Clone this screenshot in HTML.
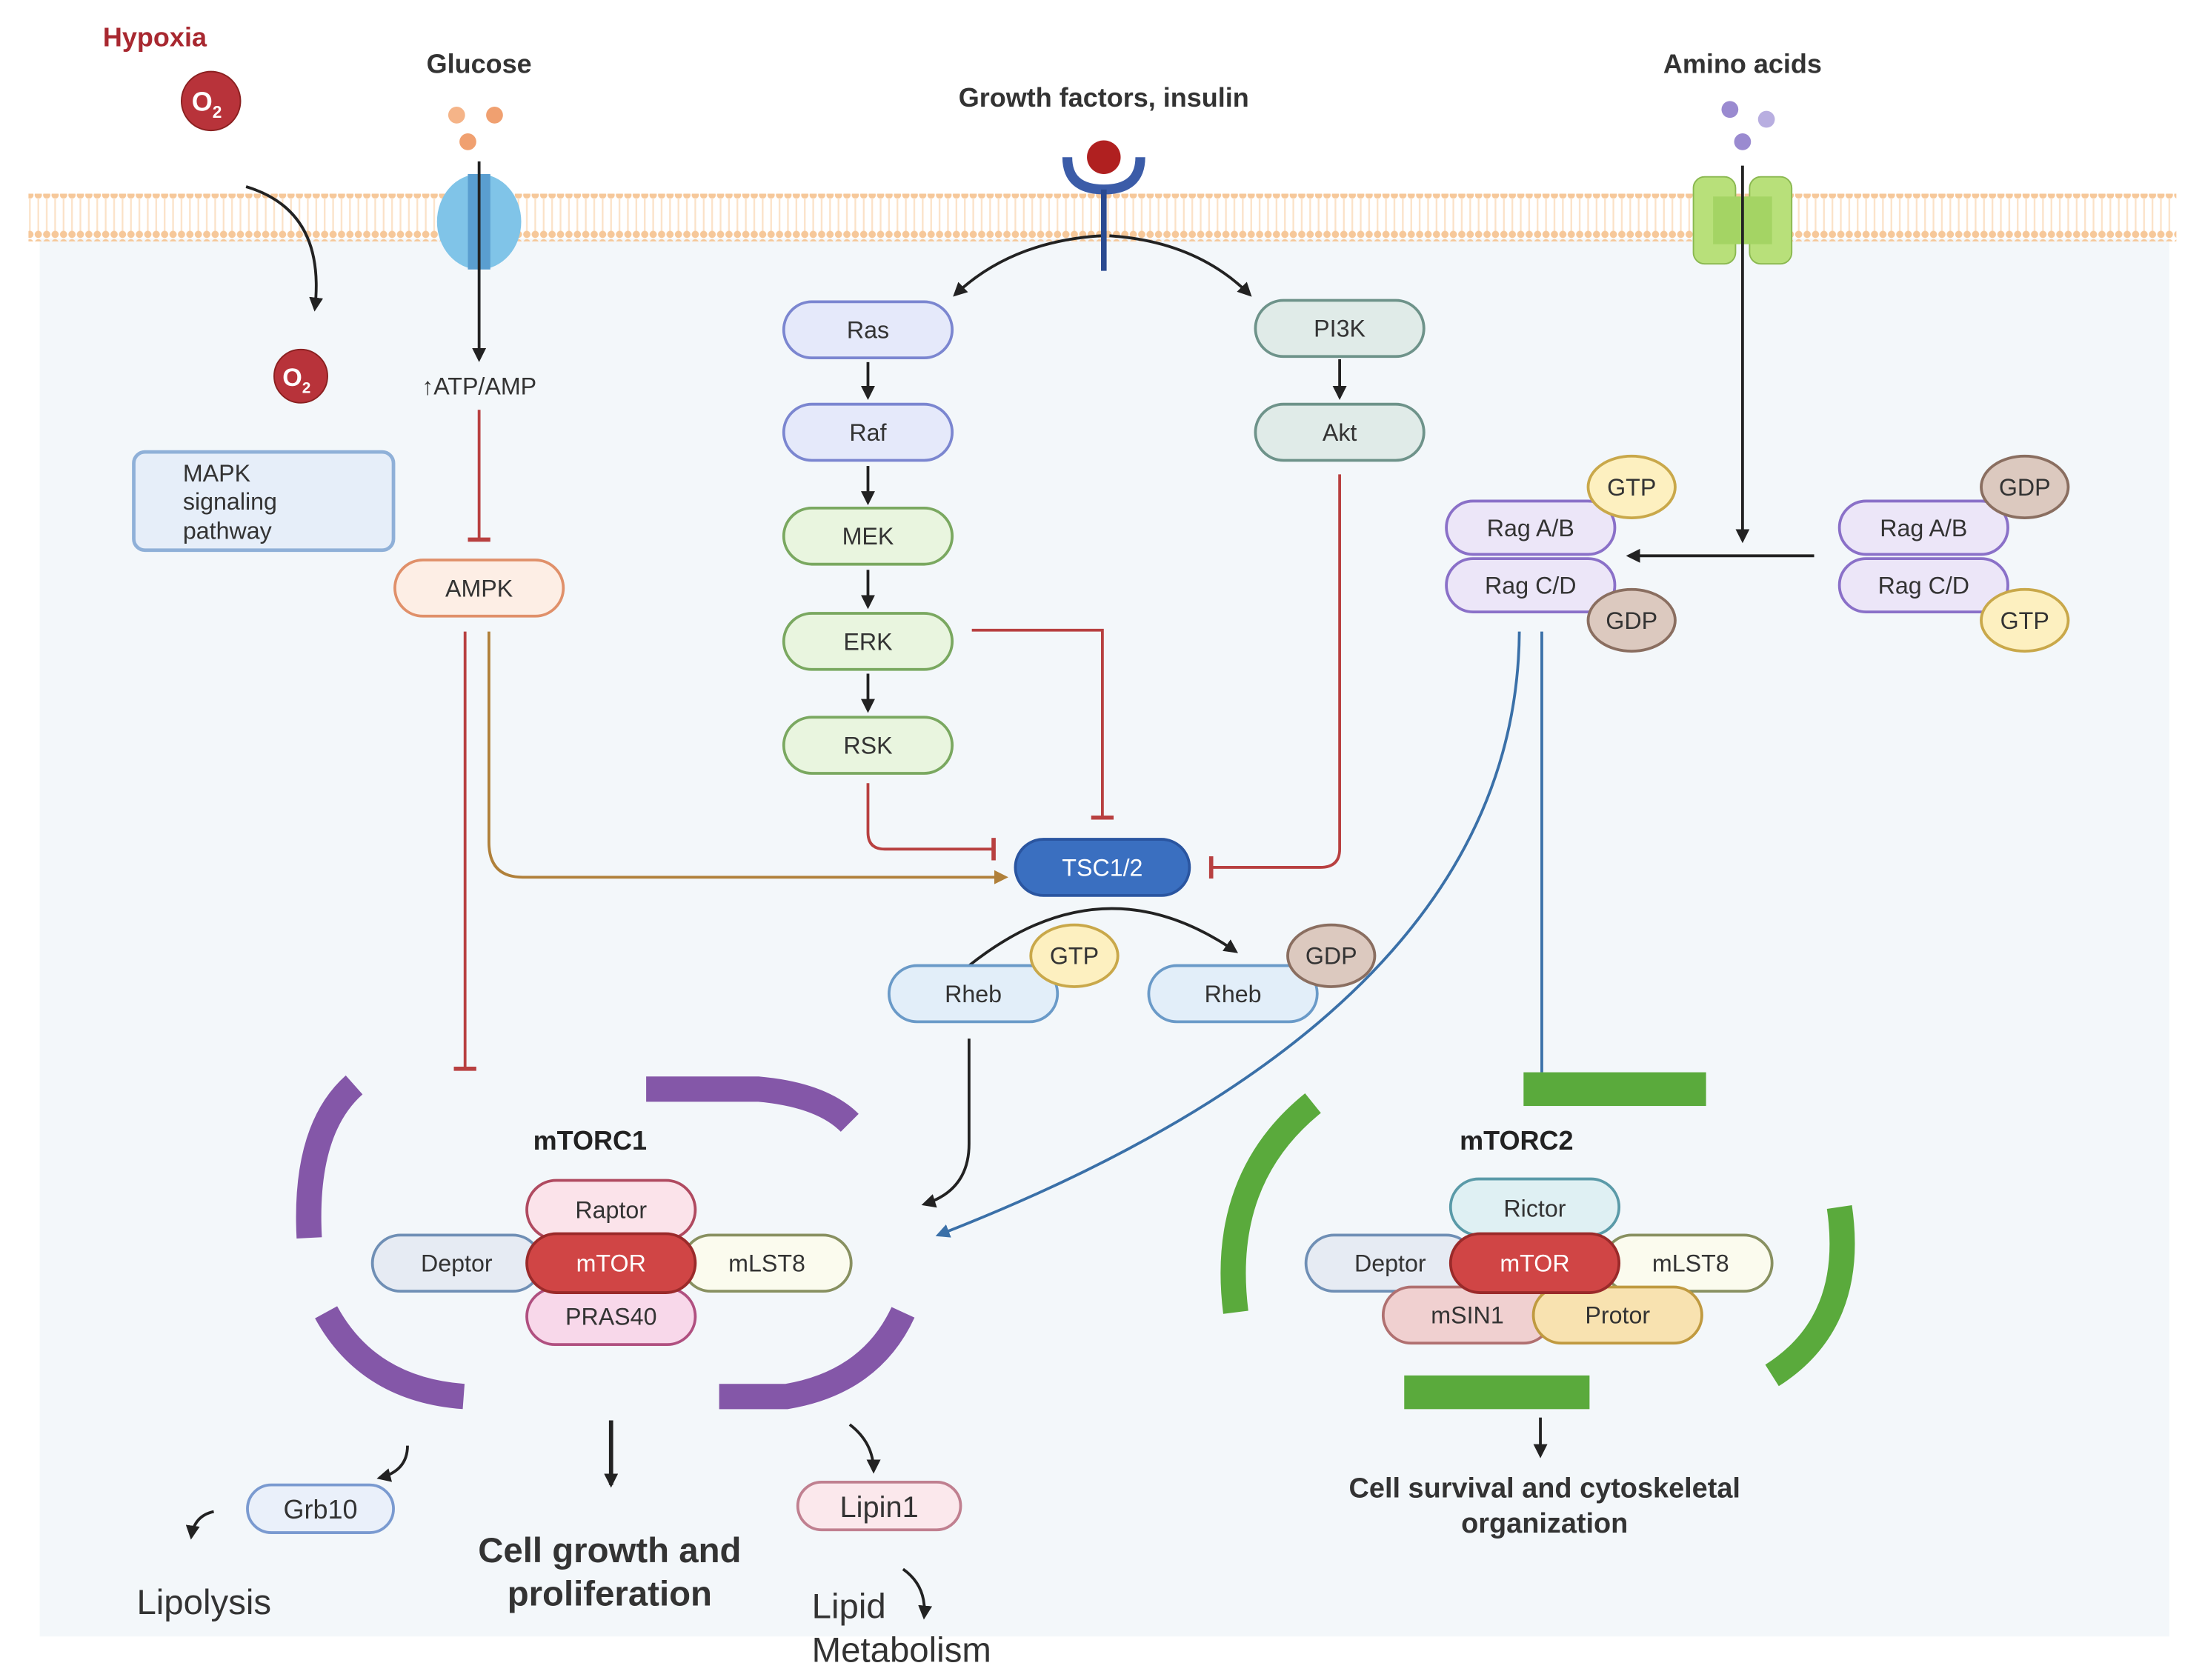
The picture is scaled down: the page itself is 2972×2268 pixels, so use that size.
<!DOCTYPE html>
<html><head><meta charset="utf-8"><style>
html,body{margin:0;padding:0;background:#fff}
svg{display:block}
text{font-family:"Liberation Sans",sans-serif}
</style></head><body>
<svg width="2972" height="2268" viewBox="0 0 1568 1197" xmlns="http://www.w3.org/2000/svg">
<defs>
<marker id="ab" markerWidth="10" markerHeight="10" refX="8" refY="5" orient="auto" markerUnits="userSpaceOnUse"><path d="M0,0 L10,5 L0,10 Z" fill="#222"/></marker>
<marker id="abl" markerWidth="10" markerHeight="10" refX="8" refY="5" orient="auto" markerUnits="userSpaceOnUse"><path d="M0,0 L10,5 L0,10 Z" fill="#3a70a8"/></marker>
<marker id="abr" markerWidth="10" markerHeight="10" refX="8" refY="5" orient="auto" markerUnits="userSpaceOnUse"><path d="M0,0 L10,5 L0,10 Z" fill="#b0803a"/></marker>
<marker id="tr" markerWidth="4" markerHeight="16" refX="2" refY="8" orient="auto" markerUnits="userSpaceOnUse"><rect x="0" y="0" width="3" height="16" fill="#b84040"/></marker>
<pattern id="mem" width="6" height="34" patternUnits="userSpaceOnUse">
<circle cx="3" cy="3" r="2.6" fill="#f6c89a"/><line x1="3" y1="5" x2="3" y2="29" stroke="#fbe2c8" stroke-width="1.2"/><circle cx="3" cy="31" r="2.6" fill="#f6c89a"/></pattern>
</defs>
<rect x="28" y="170" width="1517" height="996" fill="#f3f7fa"/>
<rect x="20" y="138" width="1530" height="34" fill="url(#mem)"/>

<!-- Hypoxia -->
<text x="110" y="33" text-anchor="middle" font-size="19" font-weight="bold" fill="#a82830">Hypoxia</text>
<circle cx="150" cy="72" r="21" fill="#b8333a" stroke="#8a2020"/>
<text x="147" y="79" text-anchor="middle" font-size="19" font-weight="bold" fill="#fff">O<tspan font-size="12" dy="5">2</tspan></text>
<circle cx="214" cy="268" r="19" fill="#b8333a" stroke="#8a2020"/>
<text x="211" y="275" text-anchor="middle" font-size="18" font-weight="bold" fill="#fff">O<tspan font-size="11" dy="5">2</tspan></text>
<path d="M175,133 Q232,150 224,220" fill="none" stroke="#222" stroke-width="2" marker-end="url(#ab)"/>

<!-- Glucose -->
<text x="341" y="52" text-anchor="middle" font-size="19" font-weight="bold" fill="#333">Glucose</text>
<circle cx="325" cy="82" r="6" fill="#f5b488"/><circle cx="352" cy="82" r="6" fill="#f0a070"/><circle cx="333" cy="101" r="6" fill="#f0a070"/>
<ellipse cx="341" cy="158" rx="30" ry="34" fill="#80c4e8"/>
<rect x="333" y="124" width="16" height="68" fill="#5a9ed0"/>
<line x1="341" y1="115" x2="341" y2="256" stroke="#222" stroke-width="2" marker-end="url(#ab)"/>
<text x="341" y="281" text-anchor="middle" font-size="17" fill="#333">↑ATP/AMP</text>
<line x1="341" y1="292" x2="341" y2="385" stroke="#b84040" stroke-width="2" marker-end="url(#tr)"/>

<!-- MAPK -->
<rect x="95" y="322" width="185" height="70" rx="8" fill="#e6eef9" stroke="#8fb0d8" stroke-width="2.5"/>
<text x="130" y="343" font-size="17" fill="#333">MAPK</text>
<text x="130" y="363" font-size="17" fill="#333">signaling</text>
<text x="130" y="384" font-size="17" fill="#333">pathway</text>

<!-- Growth factors -->
<text x="786" y="76" text-anchor="middle" font-size="19" font-weight="bold" fill="#333">Growth factors, insulin</text>
<path d="M760,112 Q760,135 786,135 Q812,135 812,112" fill="none" stroke="#3b5ca8" stroke-width="7"/>
<circle cx="786" cy="112" r="12" fill="#b02020"/>
<line x1="786" y1="135" x2="786" y2="193" stroke="#2a4a90" stroke-width="4"/>
<path d="M784,168 Q720,172 680,210" fill="none" stroke="#222" stroke-width="2" marker-end="url(#ab)"/>
<path d="M790,168 Q852,172 890,210" fill="none" stroke="#222" stroke-width="2" marker-end="url(#ab)"/>

<!-- arrows in cascade -->
<g stroke="#222" stroke-width="2" marker-end="url(#ab)">
<line x1="618" y1="258" x2="618" y2="283"/><line x1="618" y1="332" x2="618" y2="358"/>
<line x1="618" y1="406" x2="618" y2="432"/><line x1="618" y1="480" x2="618" y2="506"/>
<line x1="954" y1="256" x2="954" y2="283"/>
</g>

<!-- inhibitors to TSC -->
<g fill="none" stroke="#b84040" stroke-width="2">
<path d="M692,449 L785,449 L785,583" marker-end="url(#tr)"/>
<path d="M954,338 L954,605 Q954,618 940,618 L862,618" marker-end="url(#tr)"/>
<path d="M618,558 L618,593 Q618,605 630,605 L708,605" marker-end="url(#tr)"/>
<path d="M331,450 L331,762" marker-end="url(#tr)"/>
</g>
<path d="M348,450 L348,600 Q348,625 372,625 L716,625" fill="none" stroke="#b0803a" stroke-width="2" marker-end="url(#abr)"/>

<!-- Amino acids -->
<text x="1241" y="52" text-anchor="middle" font-size="19" font-weight="bold" fill="#333">Amino acids</text>
<circle cx="1232" cy="78" r="6" fill="#9a8ad0"/><circle cx="1258" cy="85" r="6" fill="#b8aee0"/><circle cx="1241" cy="101" r="6" fill="#9a8ad0"/>
<rect x="1206" y="126" width="30" height="62" rx="8" fill="#b8e07a" stroke="#8ab850"/>
<rect x="1246" y="126" width="30" height="62" rx="8" fill="#b8e07a" stroke="#8ab850"/>
<rect x="1220" y="140" width="42" height="34" fill="#a4d464"/>
<line x1="1241" y1="118" x2="1241" y2="385" stroke="#222" stroke-width="2" marker-end="url(#ab)"/>
<line x1="1292" y1="396" x2="1160" y2="396" stroke="#222" stroke-width="2" marker-end="url(#ab)"/>

<!-- Rheb arrows -->
<path d="M690,688 Q785,612 880,678" fill="none" stroke="#222" stroke-width="2" marker-end="url(#ab)"/>
<path d="M690,740 L690,815 Q690,848 658,858" fill="none" stroke="#222" stroke-width="2" marker-end="url(#ab)"/>
<path d="M1082,450 Q1080,720 668,880" fill="none" stroke="#3a70a8" stroke-width="2" marker-end="url(#abl)"/>
<line x1="1098" y1="450" x2="1098" y2="764" stroke="#3a70a8" stroke-width="2"/>

<!-- pills -->
<g font-size="17" text-anchor="middle" fill="#333">
<g stroke-width="2">
<rect x="558" y="215" width="120" height="40" rx="20" fill="#e5e9fa" stroke="#7b86d0"/>
<rect x="558" y="288" width="120" height="40" rx="20" fill="#e5e9fa" stroke="#7b86d0"/>
<rect x="558" y="362" width="120" height="40" rx="20" fill="#e9f5df" stroke="#7aa860"/>
<rect x="558" y="437" width="120" height="40" rx="20" fill="#e9f5df" stroke="#7aa860"/>
<rect x="558" y="511" width="120" height="40" rx="20" fill="#e9f5df" stroke="#7aa860"/>
<rect x="894" y="214" width="120" height="40" rx="20" fill="#e0ebe8" stroke="#6e938a"/>
<rect x="894" y="288" width="120" height="40" rx="20" fill="#e0ebe8" stroke="#6e938a"/>
<rect x="723" y="598" width="124" height="40" rx="20" fill="#3a6fc0" stroke="#2a55a0"/>
<rect x="281" y="399" width="120" height="40" rx="20" fill="#fdeee5" stroke="#e0906a"/>
<rect x="633" y="688" width="120" height="40" rx="20" fill="#e2eef9" stroke="#6a9ac8"/>
<rect x="818" y="688" width="120" height="40" rx="20" fill="#e2eef9" stroke="#6a9ac8"/>
<ellipse cx="765" cy="681" rx="31" ry="22" fill="#fdf0c0" stroke="#c9a84a"/>
<ellipse cx="948" cy="681" rx="31" ry="22" fill="#dcc9bf" stroke="#8a6e60"/>
<rect x="1030" y="357" width="120" height="38" rx="19" fill="#ece6f8" stroke="#8a70c8"/>
<rect x="1030" y="398" width="120" height="38" rx="19" fill="#ece6f8" stroke="#8a70c8"/>
<ellipse cx="1162" cy="347" rx="31" ry="22" fill="#fdf0c0" stroke="#c9a84a"/>
<ellipse cx="1162" cy="442" rx="31" ry="22" fill="#dcc9bf" stroke="#8a6e60"/>
<rect x="1310" y="357" width="120" height="38" rx="19" fill="#ece6f8" stroke="#8a70c8"/>
<rect x="1310" y="398" width="120" height="38" rx="19" fill="#ece6f8" stroke="#8a70c8"/>
<ellipse cx="1442" cy="347" rx="31" ry="22" fill="#dcc9bf" stroke="#8a6e60"/>
<ellipse cx="1442" cy="442" rx="31" ry="22" fill="#fdf0c0" stroke="#c9a84a"/>
</g>
<text x="618" y="241">Ras</text><text x="618" y="314">Raf</text><text x="618" y="388">MEK</text>
<text x="618" y="463">ERK</text><text x="618" y="537">RSK</text>
<text x="954" y="240">PI3K</text><text x="954" y="314">Akt</text>
<text x="785" y="624" fill="#fff">TSC1/2</text>
<text x="341" y="425">AMPK</text>
<text x="693" y="714">Rheb</text><text x="878" y="714">Rheb</text>
<text x="765" y="687">GTP</text><text x="948" y="687">GDP</text>
<text x="1090" y="382">Rag A/B</text><text x="1090" y="423">Rag C/D</text>
<text x="1162" y="353">GTP</text><text x="1162" y="448">GDP</text>
<text x="1370" y="382">Rag A/B</text><text x="1370" y="423">Rag C/D</text>
<text x="1442" y="353">GDP</text><text x="1442" y="448">GTP</text>
</g>

<!-- mTORC1 arcs -->
<g fill="none" stroke="#8457a8" stroke-width="18">
<path d="M252,773 Q216,805 220,882"/>
<path d="M460,776 L540,776 Q585,780 605,800"/>
<path d="M232,935 Q262,990 330,995"/>
<path d="M512,995 L560,995 Q620,985 643,935"/>
</g>
<text x="420" y="819" text-anchor="middle" font-size="19" font-weight="bold" fill="#222">mTORC1</text>
<g font-size="17" text-anchor="middle" fill="#333" stroke-width="2">
<rect x="375" y="841" width="120" height="42" rx="21" fill="#fbe3ea" stroke="#b04a60"/>
<rect x="375" y="918" width="120" height="40" rx="20" fill="#f8d8ea" stroke="#b05080"/>
<rect x="265" y="880" width="120" height="40" rx="20" fill="#e6ebf3" stroke="#6f8fb5"/>
<rect x="486" y="880" width="120" height="40" rx="20" fill="#fbfbee" stroke="#889060"/>
<rect x="375" y="879" width="120" height="42" rx="21" fill="#d04545" stroke="#9a2a2a"/>
<text x="435" y="868">Raptor</text><text x="435" y="944">PRAS40</text>
<text x="325" y="906">Deptor</text><text x="546" y="906">mLST8</text>
<text x="435" y="906" fill="#fff">mTOR</text>
</g>

<!-- mTORC2 -->
<g fill="#5aaa3c">
<rect x="1085" y="764" width="130" height="24"/>
<rect x="1000" y="980" width="132" height="24"/>
</g>
<g fill="none" stroke="#5aaa3c" stroke-width="18">
<path d="M935,786 Q868,840 880,935"/>
<path d="M1310,860 Q1322,942 1262,980"/>
</g>
<text x="1080" y="819" text-anchor="middle" font-size="19" font-weight="bold" fill="#222">mTORC2</text>
<g font-size="17" text-anchor="middle" fill="#333" stroke-width="2">
<rect x="1033" y="840" width="120" height="40" rx="20" fill="#dff0f3" stroke="#5a9aa8"/>
<rect x="930" y="880" width="120" height="40" rx="20" fill="#e6ebf3" stroke="#6f8fb5"/>
<rect x="1142" y="880" width="120" height="40" rx="20" fill="#fbfbee" stroke="#889060"/>
<rect x="985" y="917" width="120" height="40" rx="20" fill="#f0d0d0" stroke="#b07070"/>
<rect x="1092" y="917" width="120" height="40" rx="20" fill="#f8e2b0" stroke="#c09a40"/>
<rect x="1033" y="879" width="120" height="42" rx="21" fill="#d04545" stroke="#9a2a2a"/>
<text x="1093" y="867">Rictor</text><text x="990" y="906">Deptor</text><text x="1204" y="906">mLST8</text>
<text x="1045" y="943">mSIN1</text><text x="1152" y="943">Protor</text>
<text x="1093" y="906" fill="#fff">mTOR</text>
</g>
<line x1="1097" y1="1010" x2="1097" y2="1037" stroke="#222" stroke-width="2" marker-end="url(#ab)"/>
<text x="1100" y="1067" text-anchor="middle" font-size="20" font-weight="bold" fill="#333">Cell survival and cytoskeletal</text>
<text x="1100" y="1092" text-anchor="middle" font-size="20" font-weight="bold" fill="#333">organization</text>

<!-- mTORC1 outputs -->
<line x1="435" y1="1012" x2="435" y2="1058" stroke="#222" stroke-width="3" marker-end="url(#ab)"/>
<text x="434" y="1113" text-anchor="middle" font-size="25" font-weight="bold" fill="#333">Cell growth and</text>
<text x="434" y="1144" text-anchor="middle" font-size="25" font-weight="bold" fill="#333">proliferation</text>
<path d="M290,1030 Q290,1048 270,1053" fill="none" stroke="#222" stroke-width="2" marker-end="url(#ab)"/>
<rect x="176" y="1058" width="104" height="34" rx="17" fill="#eaf0fa" stroke="#7a9ad0" stroke-width="2"/>
<text x="228" y="1082" text-anchor="middle" font-size="19" fill="#333">Grb10</text>
<path d="M152,1077 Q138,1080 136,1095" fill="none" stroke="#222" stroke-width="2" marker-end="url(#ab)"/>
<text x="145" y="1150" text-anchor="middle" font-size="25" fill="#333">Lipolysis</text>
<path d="M605,1015 Q622,1028 622,1048" fill="none" stroke="#222" stroke-width="2" marker-end="url(#ab)"/>
<rect x="568" y="1056" width="116" height="34" rx="17" fill="#fbe8ec" stroke="#c08090" stroke-width="2"/>
<text x="626" y="1081" text-anchor="middle" font-size="21" fill="#333">Lipin1</text>
<text x="578" y="1153" font-size="25" fill="#333">Lipid</text>
<text x="578" y="1184" font-size="25" fill="#333">Metabolism</text>
<path d="M643,1118 Q660,1130 658,1152" fill="none" stroke="#222" stroke-width="2" marker-end="url(#ab)"/>
</svg>
</body></html>
